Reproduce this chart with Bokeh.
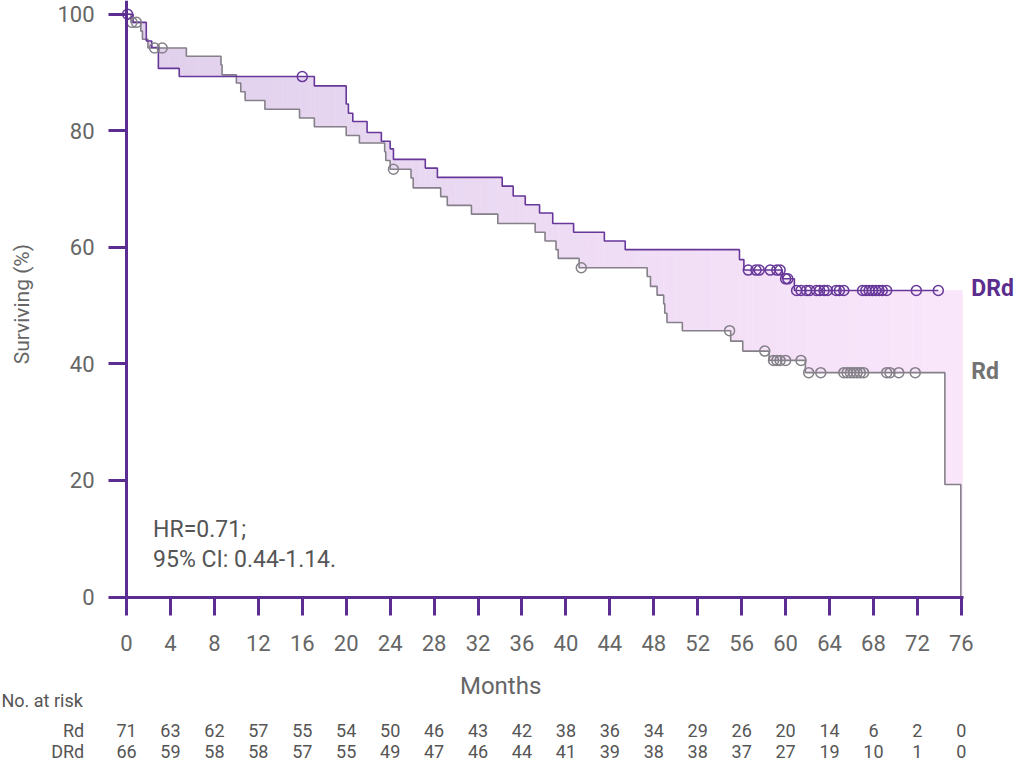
import numpy as np
from bokeh.core.properties import value
from bokeh.embed import file_html
from bokeh.models import ColumnDataSource, FixedTicker, Range1d
from bokeh.plotting import figure
from bokeh.resources import INLINE

# Kaplan-Meier steps (months, % surviving)
drd_time = [0, 0.6, 1.8, 2.3, 2.9, 4.8, 17.1, 20.0, 20.2, 20.6, 21.9, 23.2, 24.0, 24.3,
            27.2, 28.3, 34.2, 35.2, 36.3, 37.6, 38.8, 40.7, 43.5, 45.4, 55.8, 56.2, 59.7, 60.8]
drd_surv = [100, 98.6, 95.4, 94.3, 90.7, 89.3, 87.7, 84.6, 83.0, 81.6, 79.7, 78.2, 76.9, 75.1,
            73.6, 72.0, 70.5, 68.8, 67.3, 65.9, 64.1, 62.6, 61.1, 59.6, 57.9, 56.1, 54.6, 52.6]
drd_censor = [0.1, 16.0, 56.6, 57.3, 57.6, 58.6, 59.2, 59.5, 60.0, 60.2, 61.0, 61.4, 61.9,
              62.2, 62.8, 63.1, 63.5, 63.8, 64.6, 64.9, 65.3, 67.0, 67.3, 67.6, 67.9, 68.2,
              68.5, 68.8, 69.2, 71.9, 73.9]

rd_time = [0, 0.4, 1.3, 1.45, 1.95, 5.45, 8.6, 8.7, 10.0, 10.4, 10.8, 12.6, 15.75, 17.1,
           20.0, 21.2, 23.5, 23.6, 24.0, 25.9, 26.1, 28.6, 29.2, 31.4, 33.8, 37.2, 38.1,
           39.1, 39.3, 41.2, 47.4, 47.7, 48.3, 48.9, 49.0, 49.2, 50.6, 55.0, 56.1, 58.5,
           61.8, 74.5, 75.95]
rd_surv = [100, 98.6, 97.1, 95.7, 94.2, 92.8, 91.3, 89.6, 88.2, 86.7, 85.2, 83.7, 82.2, 80.7,
           79.2, 77.9, 76.4, 74.9, 73.4, 71.9, 70.2, 68.7, 67.2, 65.7, 64.1, 62.6, 61.1,
           59.6, 58.1, 56.5, 55.0, 53.3, 51.8, 50.3, 48.7, 47.1, 45.7, 43.9, 42.2, 40.6,
           38.5, 19.3, 0]
rd_censor = [0.5, 0.9, 2.55, 3.25, 24.3, 41.4, 54.9, 58.1, 58.9, 59.2, 59.5, 60.0, 61.4,
             62.1, 63.2, 65.3, 65.6, 65.9, 66.2, 66.5, 66.8, 67.1, 69.2, 69.5, 70.3, 71.8]

band_end = 76.1

risk_months = list(range(0, 77, 4))
risk_rd = [71, 63, 62, 57, 55, 54, 50, 46, 43, 42, 38, 36, 34, 29, 26, 20, 14, 6, 2, 0]
risk_drd = [66, 59, 58, 58, 57, 55, 49, 47, 46, 44, 41, 39, 38, 38, 37, 27, 19, 10, 1, 0]

PURPLE = "#67389a"
AXIS = "#5c2d91"
GREY = "#858089"
TXT = "#666666"
FONT = "Roboto"

# figure size; layout positions are given in 1032x781 page px and scaled in
W, H = 1016, 765
sx, sy = W / 1032, H / 781
X0, X76 = 128 * sx, 976 * sx
Y0, Y100 = 609 * sy, 14 * sy
pxm = (X76 - X0) / 76.0
pyp = (Y0 - Y100) / 100.0


def mx(px):
    return (px * sx - X0) / pxm


def vy(py):
    return (Y0 - py * sy) / pyp


def step_at(times, surv, t):
    i = np.searchsorted(np.asarray(times), t, side="right") - 1
    return np.asarray(surv)[i]


p = figure(width=W, height=H, output_backend="svg", toolbar_location=None, title=None,
           x_range=Range1d(mx(0), mx(1032)), y_range=Range1d(vy(781), vy(0)),
           min_border=0, outline_line_color=None)
p.xgrid.visible = False
p.ygrid.visible = False

# shaded band between the curves, light lavender to pink
edges = sorted(set([t for t in drd_time + rd_time if t < band_end] + [band_end]))
left, right, top, bottom, colors = [], [], [], [], []
c0 = np.array([224, 208, 236])
c1 = np.array([251, 231, 252])
for a, b in zip(edges[:-1], edges[1:]):
    d = step_at(drd_time, drd_surv, a)
    r = step_at(rd_time, rd_surv, a)
    n = int(np.ceil((b - a) / 1.0))
    for k in range(n):
        l = a + (b - a) * k / n
        rr = a + (b - a) * (k + 1) / n
        f = ((l + rr) / 2) / band_end
        c = (c0 + (c1 - c0) * f).astype(int)
        left.append(l)
        right.append(rr)
        top.append(max(d, r))
        bottom.append(min(d, r))
        colors.append("#%02x%02x%02x" % tuple(c))
band = ColumnDataSource(dict(left=left, right=right, top=top, bottom=bottom, color=colors))
p.quad(left="left", right="right", top="top", bottom="bottom", source=band,
       fill_color="color", line_color="color", line_width=0.6)

# survival curves
p.step(rd_time, rd_surv, mode="after", line_color=GREY, line_width=1.6)
p.step(drd_time + [drd_censor[-1]], drd_surv + [drd_surv[-1]], mode="after",
       line_color=PURPLE, line_width=1.6)

# censored marks
p.scatter(rd_censor, [step_at(rd_time, rd_surv, t) for t in rd_censor], marker="circle",
          size=10, fill_alpha=0, line_color=GREY, line_width=1.5)
p.scatter(drd_censor, [step_at(drd_time, drd_surv, t) for t in drd_censor], marker="circle",
          size=10, fill_alpha=0, line_color=PURPLE, line_width=1.5)

# axes sit inside the frame
for ax, ticks, bnd in ((p.xaxis[0], risk_months, (0, 76.15)),
                       (p.yaxis[0], [0, 20, 40, 60, 80, 100], (0, vy(0)))):
    ax.fixed_location = 0
    ax.bounds = bnd
    ax.ticker = FixedTicker(ticks=ticks)
    ax.axis_line_color = AXIS
    ax.axis_line_width = 3
    ax.major_tick_line_color = AXIS
    ax.major_tick_line_width = 3
    ax.major_tick_in = 0
    ax.major_tick_out = 18
    ax.minor_tick_line_color = None
    ax.major_label_text_font = FONT
    ax.major_label_text_font_size = "22px"
    ax.major_label_text_color = TXT
p.xaxis.major_label_standoff = 20
p.yaxis.major_label_standoff = 14

p.text([mx(508)], [vy(700)], text=["Months"], text_font=value(FONT), text_font_size="24px",
       text_color=TXT, text_align="center", text_baseline="middle")
p.text([mx(22)], [vy(310)], text=["Surviving (%)"], text_font=value(FONT), text_font_size="21px",
       text_color=TXT, text_align="center", text_baseline="middle", angle=np.pi / 2)

p.text([mx(155), mx(155)], [vy(540), vy(571)], text=["HR=0.71;", "95% CI: 0.44-1.14."],
       text_font=value(FONT), text_font_size="23px", text_color="#555555",
       text_align="left", text_baseline="middle")

p.text([mx(986)], [vy(294)], text=["DRd"], text_font=value(FONT), text_font_size="23px",
       text_font_style="bold", text_color="#5b2d8e", text_baseline="middle")
p.text([mx(986)], [vy(379)], text=["Rd"], text_font=value(FONT), text_font_size="23px",
       text_font_style="bold", text_color="#737373", text_baseline="middle")

# number at risk table
row_y = [745, 767]
p.text([mx(1)], [vy(715)], text=["No. at risk"], text_font=value(FONT), text_font_size="18px",
       text_color="#555555", text_baseline="middle")
p.text([mx(85), mx(85)], [vy(row_y[0]), vy(row_y[1])], text=["Rd", "DRd"], text_font=value(FONT),
       text_font_size="18px", text_color="#555555", text_align="right", text_baseline="middle")
p.text(risk_months, [vy(row_y[0])] * len(risk_months), text=[str(v) for v in risk_rd],
       text_font=value(FONT), text_font_size="18px", text_color="#555555",
       text_align="center", text_baseline="middle")
p.text(risk_months, [vy(row_y[1])] * len(risk_months), text=[str(v) for v in risk_drd],
       text_font=value(FONT), text_font_size="18px", text_color="#555555",
       text_align="center", text_baseline="middle")

open("out.html", "w").write(file_html(p, INLINE))
